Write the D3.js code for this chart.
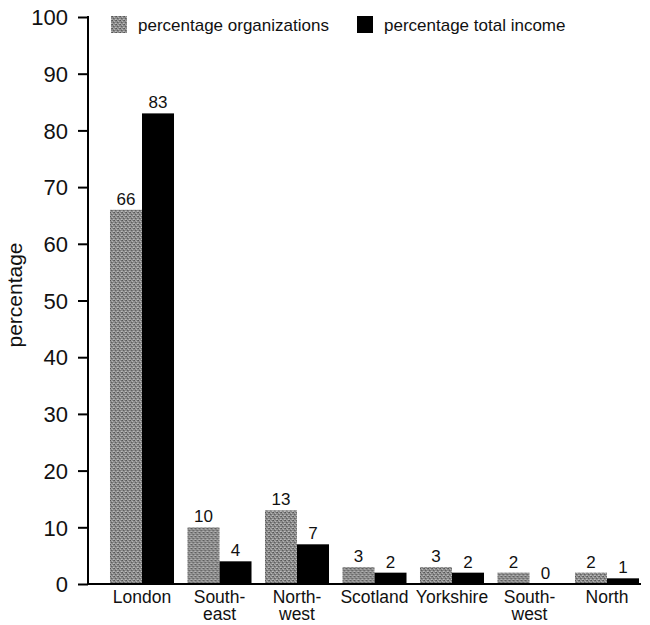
<!DOCTYPE html>
<html><head><meta charset="utf-8">
<script src="https://cdn.jsdelivr.net/npm/d3@7"></script>
<style>body{margin:0;background:#fff}svg{display:block}text{font-family:"Liberation Sans",Arial,sans-serif;fill:#111}</style>
</head><body>
<svg id="c" width="650" height="625"></svg>
<script>
const categories = [["London"],["South-","east"],["North-","west"],["Scotland"],["Yorkshire"],["South-","west"],["North"]];
const categoryKeys = ["London","South-east","North-west","Scotland","Yorkshire","South-west","North"];
const pctOrganizations = [66,10,13,3,3,2,2];
const pctIncome = [83,4,7,2,2,0,1];
const seriesNames = ["percentage organizations","percentage total income"];
const yTicks = [0,10,20,30,40,50,60,70,80,90,100];

const svg = d3.select("#c");
const defs = svg.append("defs");
const pat = defs.append("pattern").attr("id","grain").attr("width",4).attr("height",4).attr("patternUnits","userSpaceOnUse");
pat.append("rect").attr("width",4).attr("height",4).attr("fill","#8c8c8c");
[[0,0,"#555"],[2,1,"#b4b4b4"],[1,2,"#606060"],[3,3,"#bcbcbc"],[3,0,"#6a6a6a"],[0,3,"#a8a8a8"],[2,2,"#777"],[1,0,"#a0a0a0"]].forEach(([x,y,c])=>pat.append("rect").attr("x",x).attr("y",y).attr("width",1).attr("height",1).attr("fill",c));

const y = d3.scaleLinear().domain([0,100]).range([584,17]);
const x0 = d3.scaleBand().domain(categoryKeys).range([103.25,645.75]).paddingInner(0.174).paddingOuter(0.087);
const x1 = d3.scaleBand().domain([0,1]).range([0,x0.bandwidth()]);

const data = categoryKeys.map((k,i)=>({k, vals:[pctOrganizations[i],pctIncome[i]]}));
const fills = ["url(#grain)","#000"];

const g = svg.append("g");
const groups = g.selectAll("g.grp").data(data).join("g").attr("transform",d=>`translate(${x0(d.k)},0)`);
groups.selectAll("rect").data(d=>d.vals).join("rect")
  .attr("x",(v,j)=>x1(j)).attr("width",x1.bandwidth())
  .attr("y",v=>y(v)).attr("height",v=>y(0)-y(v)).attr("fill",(v,j)=>fills[j]);
groups.selectAll("text.val").data(d=>d.vals).join("text").attr("class","val")
  .attr("x",(v,j)=>x1(j)+x1.bandwidth()/2).attr("y",v=>y(v)-5)
  .attr("text-anchor","middle").style("font-size","17px").text(v=>v);

// y axis
const yAxis = d3.axisLeft(y).tickValues(yTicks).tickSize(10).tickPadding(10);
const ya = svg.append("g").attr("transform","translate(88,0)").call(yAxis);
ya.select(".domain").remove();
ya.selectAll(".tick line").attr("stroke","#000").attr("stroke-width",2);
ya.selectAll(".tick text").style("font-size","22px").attr("fill","#111").attr("dy","0.35em");
svg.append("line").attr("x1",88).attr("x2",88).attr("y1",y(100)-1).attr("y2",y(0)+1).attr("stroke","#000").attr("stroke-width",2);
// baseline
svg.append("line").attr("x1",87).attr("x2",641).attr("y1",y(0)).attr("y2",y(0)).attr("stroke","#000").attr("stroke-width",2);

// category labels
const xl = svg.append("g");
categoryKeys.forEach((k,i)=>{
  const t = xl.append("text").attr("x",x0(k)+x0.bandwidth()/2).attr("y",603).attr("text-anchor","middle").style("font-size","17.5px");
  categories[i].forEach((line,li)=>t.append("tspan").attr("x",x0(k)+x0.bandwidth()/2).attr("dy",li?17:0).text(line));
});

// y title
svg.append("text").attr("transform","translate(22,295) rotate(-90)").attr("text-anchor","middle").style("font-size","21px").text("percentage");

// legend
const leg = svg.append("g");
const legX = [111,357];
seriesNames.forEach((n,i)=>{
  leg.append("rect").attr("x",legX[i]).attr("y",16).attr("width",16).attr("height",17).attr("fill",fills[i]);
  leg.append("text").attr("x",legX[i]+27).attr("y",31).style("font-size","17px").text(n);
});
</script>
</body></html>
